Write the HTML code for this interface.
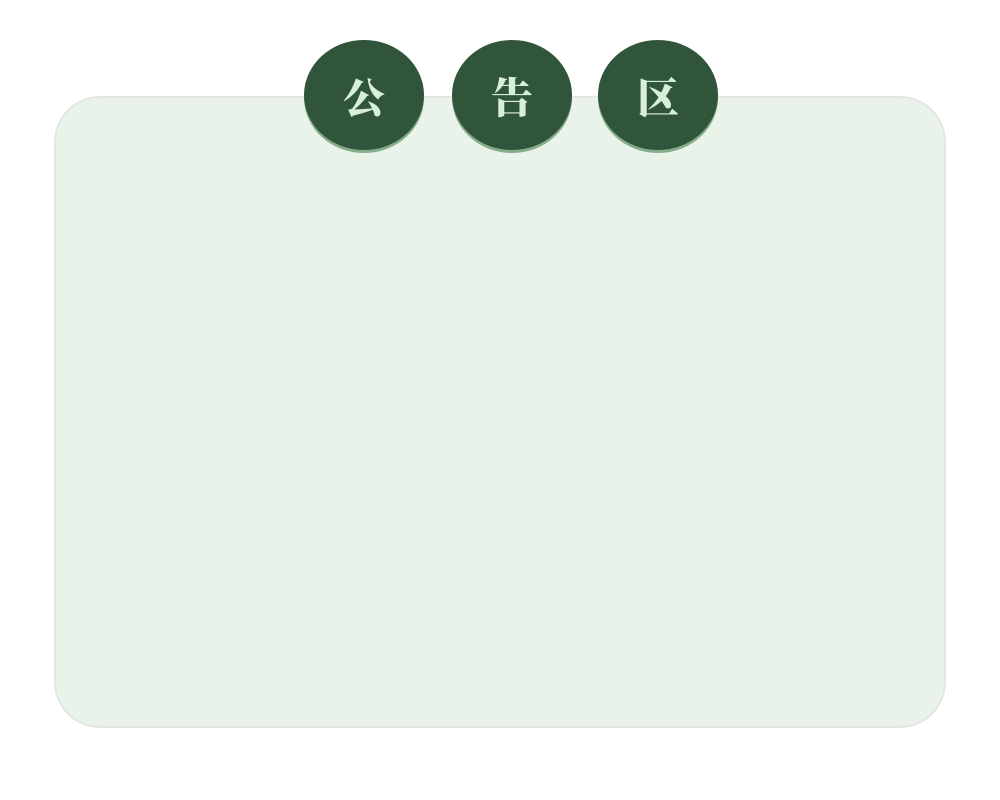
<!DOCTYPE html>
<html><head><meta charset="utf-8"><style>
body{margin:0;width:1000px;height:800px;background:#fff;position:relative;overflow:hidden;font-family:"Liberation Sans","Noto Serif CJK SC","Noto Sans CJK SC",serif;}
.card{position:absolute;left:54px;top:96px;width:888px;height:628px;background:#e9f3ea;border:2px solid #e2e6e2;border-radius:46px;}
.c{position:absolute;top:40px;width:120px;height:110px;border-radius:50%;background:#31553a;box-shadow:0 3px 0 #86ad8a;color:#d7eed9;font-size:42px;font-weight:900;line-height:118px;text-align:center;}
</style></head><body>
<div class="card"></div>
<div class="c" style="left:304px">公</div>
<div class="c" style="left:452px">告</div>
<div class="c" style="left:598px">区</div>
</body></html>
